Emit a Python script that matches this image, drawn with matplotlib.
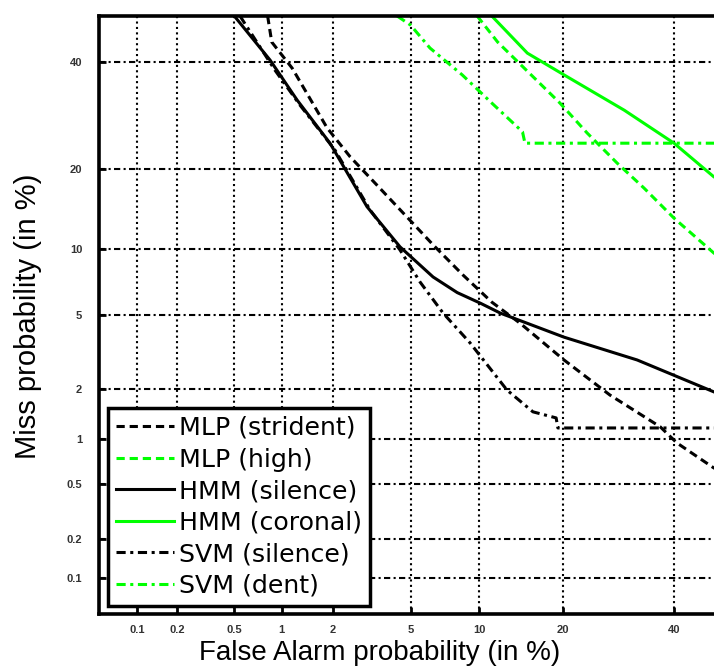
"""
DET curves (miss vs false alarm) on normal deviate axes
"""
from statistics import NormalDist
import numpy as np
import matplotlib
matplotlib.use("Agg")
import matplotlib.pyplot as plt
from matplotlib.ticker import FixedLocator, FixedFormatter, NullLocator

# values in percent
ticks = [0.1, 0.2, 0.5, 1, 2, 5, 10, 20, 40]
tick_labels = ['0.1', '0.2', '0.5', '1', '2', '5', '10', '20', '40']

mlp_strident_fa = [0.82, 0.87, 1.16, 1.85, 2.48, 3.42, 4.82, 6.35, 8.57, 11.2, 14.3, 20.2, 27.7, 37.2, 40.6, 48.1, 50]
mlp_strident_miss = [50, 44.3, 38.7, 26.9, 21.9, 17.6, 13.4, 10.4, 7.7, 5.77, 4.55, 2.92, 1.85, 1.19, 0.94, 0.65, 0.6]

mlp_high_fa = [9.8, 11.8, 15.3, 19.6, 23.8, 29, 34, 40, 48.3, 50]
mlp_high_miss = [50, 44.3, 37.9, 31.6, 26, 20.9, 17.2, 13.3, 9.6, 9.1]

hmm_silence_fa = [0.5, 0.85, 1.24, 1.92, 3.04, 4.45, 6.35, 8.1, 10.1, 12.1, 20.2, 32.7, 48.3, 50]
hmm_silence_miss = [50, 40.4, 32.2, 24.2, 14.7, 10.2, 7.55, 6.4, 5.7, 5.1, 3.86, 2.92, 1.93, 1.85]

hmm_coronal_fa = [11.2, 15.2, 20.2, 30.3, 40, 48.3, 50]
hmm_coronal_miss = [50, 41.9, 37.3, 30.2, 24.2, 18.8, 18.2]

svm_silence_fa = [0.545, 0.91, 1.29, 2.05, 3.15, 4.45, 5.54, 7.04, 9.17, 12.8, 15.9, 19.05, 19.3, 50]
svm_silence_miss = [50, 38.3, 31.2, 23.0, 14.3, 9.9, 7.16, 5.1, 3.6, 1.98, 1.47, 1.35, 1.17, 1.17]

svm_dent_fa = [4.31, 5.0, 6.15, 8.5, 11.2, 14.6, 14.9, 50]
svm_dent_miss = [50, 48, 43, 37.3, 31.6, 26.2, 24.2, 24.2]

_nd = NormalDist()


def probit(p):
    """percent -> normal deviate"""
    p = np.clip(np.asarray(p, dtype=float) / 100.0, 1e-9, 1 - 1e-9)
    return np.vectorize(_nd.inv_cdf, otypes=[float])(p)


def inv_probit(z):
    """normal deviate -> percent"""
    z = np.asarray(z, dtype=float)
    return np.vectorize(_nd.cdf, otypes=[float])(z) * 100.0


GREEN = '#00ff00'
DASH = (0, (2.7, 1.6))
DASHDOT = (0, (3, 1.5, 1, 1.5))

fig = plt.figure(figsize=(7.14, 6.67), dpi=100)
ax = fig.add_axes([99 / 714, 53 / 667, 623 / 714, 598 / 667])

ax.set_xscale('function', functions=(probit, inv_probit))
ax.set_yscale('function', functions=(probit, inv_probit))
ax.set_xlim(0.05, 50)
ax.set_ylim(0.05, 50)

lw = 2.2
ax.plot(mlp_strident_fa, mlp_strident_miss, color='black', ls=DASH, lw=lw, label='MLP (strident)')
ax.plot(mlp_high_fa, mlp_high_miss, color=GREEN, ls=DASH, lw=lw, label='MLP (high)')
ax.plot(hmm_silence_fa, hmm_silence_miss, color='black', ls='-', lw=lw, label='HMM (silence)')
ax.plot(hmm_coronal_fa, hmm_coronal_miss, color=GREEN, ls='-', lw=lw, label='HMM (coronal)')
ax.plot(svm_silence_fa, svm_silence_miss, color='black', ls=DASHDOT, lw=lw, label='SVM (silence)')
ax.plot(svm_dent_fa, svm_dent_miss, color=GREEN, ls=DASHDOT, lw=lw, label='SVM (dent)')

for axis in (ax.xaxis, ax.yaxis):
    axis.set_major_locator(FixedLocator(ticks))
    axis.set_major_formatter(FixedFormatter(tick_labels))
    axis.set_minor_locator(NullLocator())

# grid: dash-dot across, dotted up
ax.yaxis.grid(True, color='black', lw=1.5, ls=(0, (3, 1.6, 1, 1.6)))
ax.xaxis.grid(True, color='black', lw=1.5, ls=(0, (1, 1.6)))
ax.set_axisbelow(True)

ax.tick_params(direction='in', length=5, width=2, labelsize=8,
               labelcolor='#333333')
ax.tick_params(axis='x', pad=8)
ax.tick_params(axis='y', pad=12)
for lab in ax.get_xticklabels() + ax.get_yticklabels():
    lab.set_fontweight('bold')
    lab.set_family('Liberation Sans')

for side in ('left', 'bottom', 'top'):
    ax.spines[side].set_linewidth(2.6)
ax.spines['right'].set_visible(False)

ax.set_xlabel('False Alarm probability (in %)', family='Liberation Sans',
              fontsize=20)
ax.xaxis.set_label_coords(0.451, -0.044)
ax.set_ylabel('Miss probability (in %)', family='Liberation Sans', fontsize=21)
ax.yaxis.set_label_coords(-0.092, 0.498)

leg = ax.legend(loc='lower left', bbox_to_anchor=(0.0144, 0.0134),
                borderaxespad=0, fancybox=False, framealpha=1,
                edgecolor='black', handlelength=2.3, handletextpad=0.2,
                borderpad=0.32, labelspacing=0.3,
                prop={'family': 'DejaVu Sans', 'size': 18.2})
leg.get_frame().set_linewidth(2.5)

fig.savefig('out.png', dpi=100)
